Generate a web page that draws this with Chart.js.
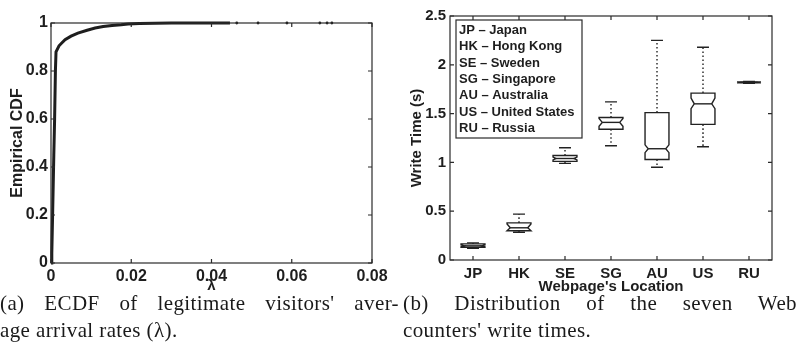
<!DOCTYPE html>
<html><head><meta charset="utf-8">
<script src="https://cdn.jsdelivr.net/npm/chart.js@4.4.0/dist/chart.umd.min.js"></script>
<style>
html,body{margin:0;padding:0;background:#fff;width:797px;height:352px;overflow:hidden;}
#ca{position:absolute;left:0;top:0;}
#cb{position:absolute;left:400px;top:0;}
.cap{position:absolute;font-family:"Liberation Serif","DejaVu Serif",serif;font-size:21px;letter-spacing:0.4px;color:#1a1a1a;white-space:nowrap;line-height:27px;}
.just{text-align:justify;text-align-last:justify;white-space:normal;}
</style></head><body>
<canvas id="ca" width="400" height="300"></canvas>
<canvas id="cb" width="397" height="300"></canvas>
<div class="cap just" style="left:0;top:290px;width:399px">(a) ECDF of legitimate visitors' aver-</div>
<div class="cap" style="left:0;top:317px">age arrival rates (λ).</div>
<div class="cap just" style="left:403px;top:290px;width:394px">(b) Distribution of the seven Web</div>
<div class="cap" style="left:403px;top:317px">counters' write times.</div>
<script>
// ---------- (a) ECDF data ----------
const ecdfLambda = [0, 0.0002, 0.0004, 0.0007, 0.0009, 0.0011, 0.00125, 0.002, 0.0035, 0.005, 0.0067, 0.009, 0.011, 0.013, 0.0152, 0.0175, 0.0192, 0.022, 0.026, 0.03, 0.035, 0.04, 0.0446];
const ecdfProb   = [0, 0.04, 0.2, 0.45, 0.6, 0.8, 0.88, 0.905, 0.93, 0.945, 0.958, 0.97, 0.979, 0.985, 0.99, 0.993, 0.996, 0.998, 0.999, 0.9995, 0.9998, 0.9999, 1];
const tailLambda = [0.0463, 0.0516, 0.0588, 0.067, 0.0688, 0.070];
const tailProb   = [1, 1, 1, 1, 1, 1];
const aXTicks = [0, 0.02, 0.04, 0.06, 0.08];
const aXTickLabels = ['0', '0.02', '0.04', '0.06', '0.08'];
const aYTicks = [0, 0.2, 0.4, 0.6, 0.8, 1];
const aYTickLabels = ['0', '0.2', '0.4', '0.6', '0.8', '1'];

// ---------- (b) box plot data ----------
const locations = ['JP', 'HK', 'SE', 'SG', 'AU', 'US', 'RU'];
const countries = ['Japan', 'Hong Kong', 'Sweden', 'Singapore', 'Australia', 'United States', 'Russia'];
const whiskerLow  = [0.12, 0.285, 0.99, 1.17, 0.95, 1.16, 1.81];
const quart1      = [0.13, 0.30, 1.01, 1.34, 1.03, 1.39, 1.815];
const medians     = [0.145, 0.33, 1.04, 1.41, 1.14, 1.60, 1.82];
const quart3      = [0.165, 0.38, 1.07, 1.46, 1.51, 1.71, 1.825];
const whiskerHigh = [0.175, 0.47, 1.15, 1.62, 2.25, 2.18, 1.83];
const notchLow    = [0.135, 0.30, 1.025, 1.37, 1.10, 1.55, 1.815];
const notchHigh   = [0.155, 0.37, 1.055, 1.45, 1.18, 1.66, 1.825];
const bYTicks = [0, 0.5, 1, 1.5, 2, 2.5];
const bYTickLabels = ['0', '0.5', '1', '1.5', '2', '2.5'];

const FAM = '"Liberation Sans", Arial, Helvetica, sans-serif';
const INK = '#1e1e1e';

const frameTicks = {
  id: 'frameTicks',
  afterDatasetsDraw(chart) {
    const {ctx, chartArea: a, scales} = chart;
    ctx.save();
    ctx.strokeStyle = '#2a2a2a';
    ctx.lineWidth = 1.2;
    ctx.strokeRect(a.left, a.top, a.right - a.left, a.bottom - a.top);
    const L = 4;
    ctx.beginPath();
    scales.x.ticks.forEach((t, i) => {
      const x = scales.x.getPixelForTick(i);
      ctx.moveTo(x, a.bottom); ctx.lineTo(x, a.bottom - L);
      ctx.moveTo(x, a.top); ctx.lineTo(x, a.top + L);
    });
    scales.y.ticks.forEach((t, i) => {
      const y = scales.y.getPixelForTick(i);
      ctx.moveTo(a.left, y); ctx.lineTo(a.left + L, y);
      ctx.moveTo(a.right, y); ctx.lineTo(a.right - L, y);
    });
    ctx.stroke();
    ctx.restore();
  }
};

Chart.defaults.animation = false;

// ---------- Chart (a) ----------
new Chart(document.getElementById('ca'), {
  type: 'scatter',
  data: {
    datasets: [
      {
        data: ecdfLambda.map((v, i) => ({x: v, y: ecdfProb[i]})),
        showLine: true, borderColor: INK, borderWidth: 3, pointRadius: 0, tension: 0, clip: false
      },
      {
        data: tailLambda.map((v, i) => ({x: v, y: tailProb[i]})),
        showLine: false, pointRadius: 1.4, backgroundColor: INK, borderColor: INK, borderWidth: 0, clip: false
      }
    ]
  },
  plugins: [frameTicks],
  options: {
    responsive: false,
    layout: {padding: {left: 0, right: 28, top: 23, bottom: 0}},
    plugins: {legend: {display: false}, tooltip: {enabled: false}},
    scales: {
      x: {
        type: 'linear', min: 0, max: 0.08,
        afterBuildTicks: s => { s.ticks = aXTicks.map(v => ({value: v})); },
        afterFit: s => { s.height = 37; },
        grid: {display: false, drawTicks: false}, border: {display: false},
        ticks: {callback: (v, i) => aXTickLabels[i], color: INK, padding: 4, maxRotation: 0, font: {family: FAM, size: 16, weight: 'bold'}},
        title: {display: true, text: 'λ', color: INK, font: {family: FAM, size: 15, weight: 'bold', lineHeight: 1.2}, padding: {top: 0, bottom: 5}}
      },
      y: {
        type: 'linear', min: 0, max: 1,
        afterBuildTicks: s => { s.ticks = aYTicks.map(v => ({value: v})); },
        afterFit: s => { s.width = 51; },
        grid: {display: false, drawTicks: false}, border: {display: false},
        ticks: {callback: (v, i) => aYTickLabels[i], color: INK, padding: 3, font: {family: FAM, size: 16, weight: 'bold'}},
        title: {display: true, text: 'Empirical CDF', color: INK, font: {family: FAM, size: 16, weight: 'bold', lineHeight: 1.2}, padding: {top: 8, bottom: 0}}
      }
    }
  }
});

// ---------- Chart (b) ----------
const boxPlugin = {
  id: 'boxes',
  afterDatasetsDraw(chart) {
    const {ctx, scales: {x, y}} = chart;
    const cw = x.getPixelForValue(1) - x.getPixelForValue(0);
    const hw = cw * 0.26, cap = cw * 0.13, nIn = cw * 0.07;
    ctx.save();
    ctx.strokeStyle = '#222';
    ctx.lineWidth = 1.4;
    for (let i = 0; i < locations.length; i++) {
      const cx = x.getPixelForValue(i);
      const yWL = y.getPixelForValue(whiskerLow[i]);
      const yQ1 = y.getPixelForValue(quart1[i]);
      const yM = y.getPixelForValue(medians[i]);
      const yQ3 = y.getPixelForValue(quart3[i]);
      const yWH = y.getPixelForValue(whiskerHigh[i]);
      const yNL = y.getPixelForValue(notchLow[i]);
      const yNH = y.getPixelForValue(notchHigh[i]);
      ctx.setLineDash([1.6, 2.4]);
      ctx.beginPath();
      ctx.moveTo(cx, yQ3); ctx.lineTo(cx, yWH);
      ctx.moveTo(cx, yQ1); ctx.lineTo(cx, yWL);
      ctx.stroke();
      ctx.setLineDash([]);
      ctx.beginPath();
      ctx.moveTo(cx - cap, yWH); ctx.lineTo(cx + cap, yWH);
      ctx.moveTo(cx - cap, yWL); ctx.lineTo(cx + cap, yWL);
      ctx.stroke();
      ctx.beginPath();
      ctx.moveTo(cx - hw, yQ3); ctx.lineTo(cx - hw, yNH); ctx.lineTo(cx - hw + nIn, yM);
      ctx.lineTo(cx - hw, yNL); ctx.lineTo(cx - hw, yQ1);
      ctx.lineTo(cx + hw, yQ1); ctx.lineTo(cx + hw, yNL); ctx.lineTo(cx + hw - nIn, yM);
      ctx.lineTo(cx + hw, yNH); ctx.lineTo(cx + hw, yQ3);
      ctx.closePath();
      ctx.stroke();
      ctx.beginPath();
      ctx.moveTo(cx - hw + nIn, yM); ctx.lineTo(cx + hw - nIn, yM);
      ctx.stroke();
    }
    ctx.restore();
  },
  afterDraw(chart) {
    const {ctx, chartArea: a} = chart;
    const left = a.left + 6, top = a.top + 4, w = 126, h = 118;
    ctx.save();
    ctx.fillStyle = '#fff';
    ctx.fillRect(left, top, w, h);
    ctx.strokeStyle = '#2a2a2a';
    ctx.lineWidth = 1.2;
    ctx.strokeRect(left, top, w, h);
    ctx.fillStyle = INK;
    ctx.font = 'bold 13px ' + FAM;
    ctx.textBaseline = 'middle';
    ctx.textAlign = 'left';
    locations.forEach((c, i) => {
      ctx.fillText(c + ' – ' + countries[i], left + 3, top + 10.5 + i * 16.3);
    });
    ctx.restore();
  }
};

new Chart(document.getElementById('cb'), {
  type: 'bar',
  data: {
    labels: locations,
    datasets: [{
      data: locations.map((c, i) => [whiskerLow[i], whiskerHigh[i]]),
      backgroundColor: 'rgba(0,0,0,0)', borderWidth: 0
    }]
  },
  plugins: [boxPlugin, frameTicks],
  options: {
    responsive: false,
    layout: {padding: {left: 0, right: 25, top: 16, bottom: 0}},
    plugins: {legend: {display: false}, tooltip: {enabled: false}},
    scales: {
      x: {
        type: 'category', offset: true,
        afterFit: s => { s.height = 40; },
        grid: {display: false, drawTicks: false}, border: {display: false},
        ticks: {color: INK, padding: 5, maxRotation: 0, font: {family: FAM, size: 15, weight: 'bold'}},
        title: {display: true, text: "Webpage's Location", color: INK, font: {family: FAM, size: 15, weight: 'bold', lineHeight: 1.2}, padding: {top: 0, bottom: 4}}
      },
      y: {
        type: 'linear', min: 0, max: 2.5,
        afterBuildTicks: s => { s.ticks = bYTicks.map(v => ({value: v})); },
        afterFit: s => { s.width = 50; },
        grid: {display: false, drawTicks: false}, border: {display: false},
        ticks: {callback: (v, i) => bYTickLabels[i], color: INK, padding: 4, font: {family: FAM, size: 15, weight: 'bold'}},
        title: {display: true, text: 'Write Time (s)', color: INK, font: {family: FAM, size: 15, weight: 'bold', lineHeight: 1.2}, padding: {top: 8, bottom: 0}}
      }
    }
  }
});
</script>
</body></html>
